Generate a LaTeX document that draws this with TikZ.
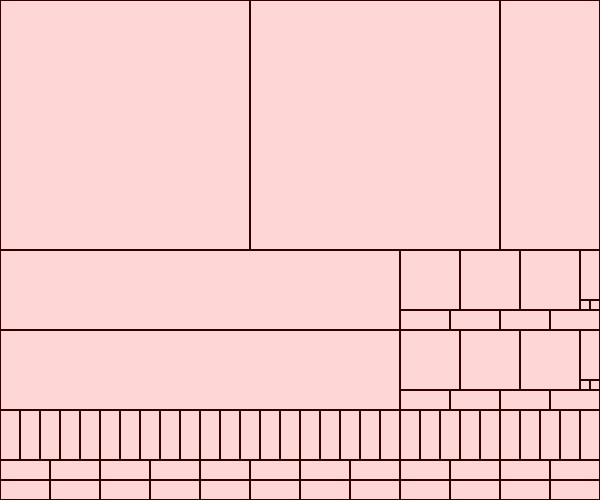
\documentclass[tikz,border=0pt]{standalone}
\usepackage{tikz}
\definecolor{mypink}{HTML}{FFD6D6}
\definecolor{mymaroon}{HTML}{330000}
\tikzset{
	cellbox/.style={
			draw=mymaroon,
			fill=mypink,
			line width=0.6pt
		}
}

\begin{document}
\begin{tikzpicture}[x=0.02cm, y=-0.02cm]
\useasboundingbox (0,0) rectangle (600,500);

% top row
\draw[cellbox] (0,0) rectangle (250,250);
\draw[cellbox] (250,0) rectangle (500,250);
\draw[cellbox] (500,0) rectangle (600,250);

% two middle bands
\foreach \y in {250,330} {
  \draw[cellbox] (0,\y) rectangle (400,\y+80);
  \foreach \x in {400,460,520}
    \draw[cellbox] (\x,\y) rectangle (\x+60,\y+60);
  \draw[cellbox] (580,\y) rectangle (600,\y+50);
  \draw[cellbox] (580,\y+50) rectangle (590,\y+60);
  \draw[cellbox] (590,\y+50) rectangle (600,\y+60);
  \foreach \x in {400,450,500,550}
    \draw[cellbox] (\x,\y+60) rectangle (\x+50,\y+80);
}

% thin strips
\foreach \x in {0,20,...,580}
  \draw[cellbox] (\x,410) rectangle (\x+20,460);

% bottom rows
\foreach \y in {460,480}
  \foreach \x in {0,50,...,550}
    \draw[cellbox] (\x,\y) rectangle (\x+50,\y+20);

\end{tikzpicture}
\end{document}
